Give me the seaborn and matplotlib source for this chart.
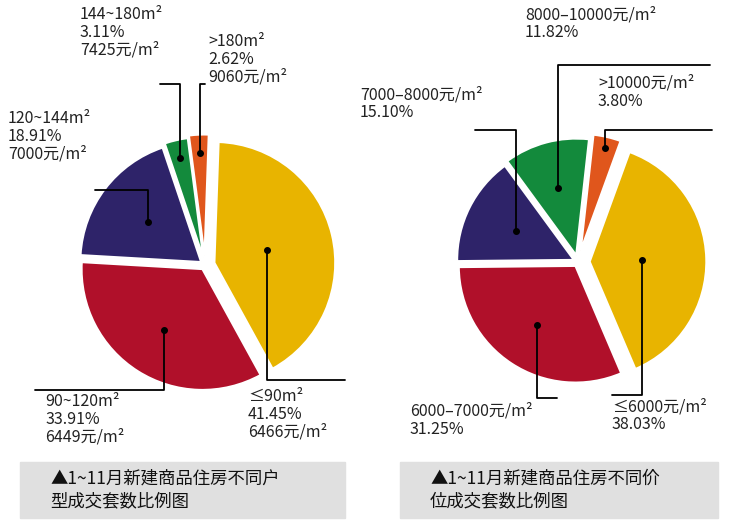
import matplotlib
matplotlib.use("Agg")
import matplotlib.pyplot as plt
import seaborn as sns
import numpy as np

sns.set_theme(style="white", font="Noto Sans CJK SC")
plt.rcParams["font.family"] = "sans-serif"
plt.rcParams["font.sans-serif"] = ["Noto Sans CJK SC", "Noto Sans CJK JP", "DejaVu Sans"]

# data
left_cats = ["≤90m²", "90~120m²", "120~144m²", "144~180m²", ">180m²"]
left_share = [41.45, 33.91, 18.91, 3.11, 2.62]
left_price = ["6466元/m²", "6449元/m²", "7000元/m²", "7425元/m²", "9060元/m²"]
right_cats = ["≤6000元/m²", "6000–7000元/m²", "7000–8000元/m²", "8000–10000元/m²", ">10000元/m²"]
right_share = [38.03, 31.25, 15.10, 11.82, 3.80]
colors = ["#e8b400", "#b0102a", "#2e2369", "#138a3c", "#e0561c"]
captions = ["▲1~11月新建商品住房不同户\n型成交套数比例图", "▲1~11月新建商品住房不同价\n位成交套数比例图"]

W, H = 731, 530
fig = plt.figure(figsize=(W/100, H/100), dpi=100)

def px_axes(cx, cy, half):
    return fig.add_axes([(cx-half)/W, 1-(cy+half)/H, 2*half/W, 2*half/H])

def pie(ax, vals, start, explode):
    wedges, _ = ax.pie(vals, colors=colors, startangle=start, counterclock=False,
                       explode=explode, wedgeprops=dict(edgecolor="white", linewidth=1.5))
    ax.set_xlim(-1.2, 1.2); ax.set_ylim(-1.2, 1.2); ax.set_aspect("equal")
    ax.axis("off")
    return wedges

def to_px(ax, x, y):
    X, Y = ax.transData.transform((x, y))
    return X, H - Y

def leader(ax, wedge, r, ly, lx):
    th = np.deg2rad((wedge.theta1 + wedge.theta2) / 2)
    cx, cy = wedge.center
    x0, y0 = to_px(ax, cx + r*np.cos(th), cy + r*np.sin(th))
    xs = [x0, x0, lx]; ys = [y0, ly, ly]
    fig.add_artist(plt.Line2D([x/W for x in xs], [1-y/H for y in ys], color="black", lw=1.3,
                              transform=fig.transFigure))
    fig.add_artist(plt.Line2D([x0/W], [1-y0/H], marker="o", ms=4, color="black",
                              transform=fig.transFigure))

def label(x, y, s):
    fig.text(x/W, 1-y/H, s, fontsize=11.5, va="top", ha="left", color="#222", linespacing=1.05)

axL = px_axes(205, 265, 145)
wl = pie(axL, left_share, 88, [0.08, 0.04, 0.04, 0.06, 0.08])
axR = px_axes(578, 262, 140)
wr = pie(axR, right_share, 70, [0.1, 0.04, 0.04, 0.06, 0.1])
fig.canvas.draw()

# left labels
label(80, 6, f"{left_cats[3]}\n{left_share[3]:.2f}%\n{left_price[3]}")
label(208, 33, f"{left_cats[4]}\n{left_share[4]:.2f}%\n{left_price[4]}")
label(8, 110, f"{left_cats[2]}\n{left_share[2]:.2f}%\n{left_price[2]}")
label(45, 393, f"{left_cats[1]}\n{left_share[1]:.2f}%\n{left_price[1]}")
label(248, 388, f"{left_cats[0]}\n{left_share[0]:.2f}%\n{left_price[0]}")
leader(axL, wl[3], 0.85, 84, 160)
leader(axL, wl[4], 0.85, 84, 205)
leader(axL, wl[2], 0.55, 190, 95)
leader(axL, wl[1], 0.6, 390, 35)
leader(axL, wl[0], 0.45, 380, 345)

# right labels
label(525, 6, f"{right_cats[3]}\n{right_share[3]:.2f}%")
label(598, 75, f"{right_cats[4]}\n{right_share[4]:.2f}%")
label(360, 86, f"{right_cats[2]}\n{right_share[2]:.2f}%")
label(410, 403, f"{right_cats[1]}\n{right_share[1]:.2f}%")
label(612, 398, f"{right_cats[0]}\n{right_share[0]:.2f}%")
leader(axR, wr[3], 0.6, 65, 710)
leader(axR, wr[4], 0.9, 130, 712)
leader(axR, wr[2], 0.55, 130, 475)
leader(axR, wr[1], 0.6, 398, 557)
leader(axR, wr[0], 0.45, 395, 612)

for x0, x1, cap in [(20, 345, captions[0]), (400, 718, captions[1])]:
    fig.add_artist(plt.Rectangle((x0/W, 1-518/H), (x1-x0)/W, 56/H, color="#e0e0e0",
                                 transform=fig.transFigure, zorder=0))
    fig.text((x0+30)/W, 1-490/H, cap, fontsize=12.5, va="center", ha="left", color="#111",
             linespacing=1.3)

fig.savefig("out.png", dpi=100)
